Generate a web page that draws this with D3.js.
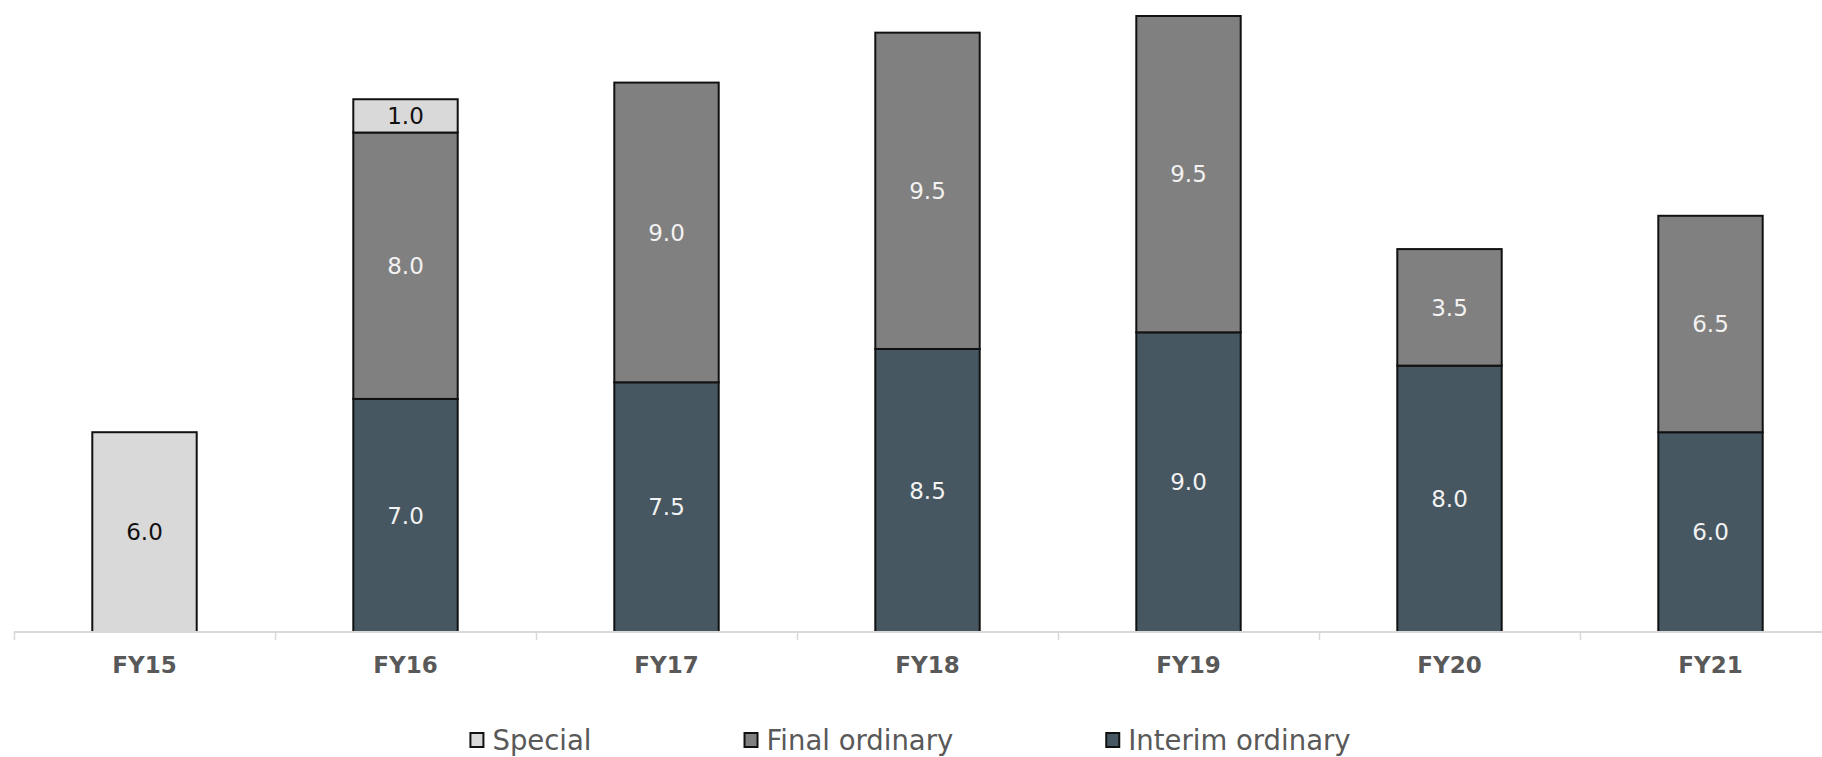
<!DOCTYPE html>
<html>
<head>
<meta charset="utf-8">
<script src="https://cdn.jsdelivr.net/npm/d3@7"></script>
<style>
  html, body { margin: 0; padding: 0; background: #fff; }
  svg { display: block; }
</style>
</head>
<body>
<div id="root"></div>
<script>
const width = 1822,
      height = 757

// data (cents per share)
const categories = ['FY15', 'FY16', 'FY17', 'FY18', 'FY19', 'FY20', 'FY21']
const interim = [0, 7.0, 7.5, 8.5, 9.0, 8.0, 6.0]
const finalOrd = [0, 8.0, 9.0, 9.5, 9.5, 3.5, 6.5]
const special = [6.0, 1.0, 0, 0, 0, 0, 0]

const seriesNames = ['Interim ordinary', 'Final ordinary', 'Special']
const legendOrder = ['Special', 'Final ordinary', 'Interim ordinary']
const colors = {
  'Interim ordinary': '#465761',
  'Final ordinary': '#808080',
  'Special': '#d9d9d9'
}
const labelColors = {
  'Interim ordinary': '#f2f2f2',
  'Final ordinary': '#f2f2f2',
  'Special': '#111'
}

const rows = categories.map((c, i) => ({
  cat: c,
  'Interim ordinary': interim[i],
  'Final ordinary': finalOrd[i],
  'Special': special[i]
}))

const stacked = d3.stack().keys(seriesNames)(rows)

const baseY = 632
const svg = d3.select('#root')
  .append('svg')
  .attr('width', width)
  .attr('height', height)

// outer band for the category slots (tick boundaries), inner for bars
const xSlot = d3.scaleBand()
  .domain(categories)
  .range([14, 1841])
  .padding(0)
const x = d3.scaleBand()
  .domain(categories)
  .range([14, 1841])
  .paddingInner(0.6)
  .paddingOuter(0.3)

const y = d3.scaleLinear()
  .domain([0, 18.5])
  .range([baseY, 16])

const layers = svg.append('g')
  .selectAll('g')
  .data(stacked)
  .enter().append('g')
  .attr('fill', d => colors[d.key])

layers.selectAll('rect')
  .data(d => d.filter(p => p[1] - p[0] > 0))
  .enter().append('rect')
  .attr('x', d => x(d.data.cat))
  .attr('width', x.bandwidth())
  .attr('y', d => y(d[1]))
  .attr('height', d => y(d[0]) - y(d[1]))
  .attr('stroke', '#111')
  .attr('stroke-width', 2)

// value labels
stacked.forEach(s => {
  svg.append('g').selectAll('text')
    .data(s.filter(p => p[1] - p[0] > 0))
    .enter().append('text')
    .attr('x', d => x(d.data.cat) + x.bandwidth() / 2)
    .attr('y', d => (y(d[0]) + y(d[1])) / 2)
    .attr('dy', '0.36em')
    .attr('text-anchor', 'middle')
    .attr('font-family', '"DejaVu Sans", Verdana, sans-serif')
    .attr('font-size', 23)
    .attr('fill', labelColors[s.key])
    .text(d => (d[1] - d[0]).toFixed(1))
})

// axis line + boundary ticks
const axis = svg.append('g')
axis.append('line')
  .attr('x1', 14).attr('x2', width)
  .attr('y1', baseY).attr('y2', baseY)
  .attr('stroke', '#d9d9d9')
  .attr('stroke-width', 2)
axis.selectAll('line.tick')
  .data(categories)
  .enter().append('line')
  .attr('class', 'tick')
  .attr('x1', d => xSlot(d) + 0.5).attr('x2', d => xSlot(d) + 0.5)
  .attr('y1', baseY).attr('y2', baseY + 8)
  .attr('stroke', '#d9d9d9')
  .attr('stroke-width', 1.5)

axis.selectAll('text')
  .data(categories)
  .enter().append('text')
  .attr('x', d => x(d) + x.bandwidth() / 2)
  .attr('y', 673)
  .attr('text-anchor', 'middle')
  .attr('font-family', '"DejaVu Sans", Verdana, sans-serif')
  .attr('font-weight', 'bold')
  .attr('font-size', 23)
  .attr('fill', '#595959')
  .text(d => d)

// legend
const legend = svg.append('g')
const items = legend.selectAll('g')
  .data(legendOrder)
  .enter().append('g')

items.append('rect')
  .attr('x', 1).attr('y', 733)
  .attr('width', 13).attr('height', 14)
  .attr('fill', d => colors[d])
  .attr('stroke', '#111')
  .attr('stroke-width', 2)

items.append('text')
  .attr('x', 23)
  .attr('y', 750)
  .attr('font-family', '"DejaVu Sans", Verdana, sans-serif')
  .attr('font-size', 27.5)
  .attr('fill', '#595959')
  .text(d => d)

let cursor = 0
const gap = 152
const offsets = []
items.each(function () {
  const w = 23 + d3.select(this).select('text').node().getComputedTextLength()
  offsets.push(cursor)
  cursor += w + gap
})
const total = cursor - gap
const start = (width - total) / 2 - 1
items.attr('transform', (d, i) => `translate(${start + offsets[i]},0)`)
</script>
</body>
</html>
